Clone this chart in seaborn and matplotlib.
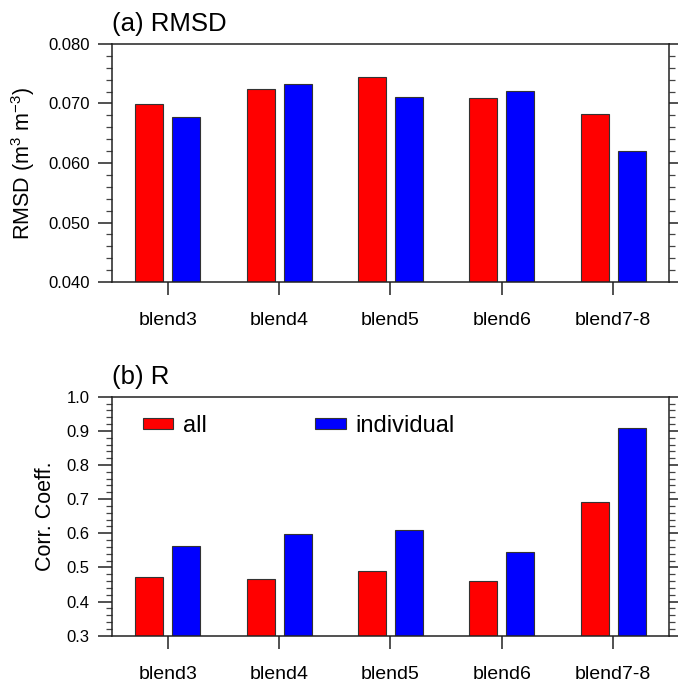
import matplotlib
matplotlib.use("Agg")
import matplotlib.pyplot as plt
from matplotlib.ticker import MultipleLocator, FormatStrFormatter
import seaborn as sns
import pandas as pd

categories = ["blend3", "blend4", "blend5", "blend6", "blend7-8"]
series_names = ["all", "individual"]
rmsd_all = [0.0699, 0.0725, 0.0745, 0.0709, 0.0682]
rmsd_individual = [0.0678, 0.0733, 0.0711, 0.0721, 0.0621]
r_all = [0.473, 0.465, 0.489, 0.459, 0.691]
r_individual = [0.562, 0.597, 0.609, 0.544, 0.907]
colors = {"all": "#ff0000", "individual": "#0000ff"}

sns.set_theme(style="white")
plt.rcParams["font.family"] = ["Liberation Sans", "DejaVu Sans"]
plt.rcParams["mathtext.fontset"] = "custom"
plt.rcParams["mathtext.rm"] = "Liberation Sans"
plt.rcParams["mathtext.it"] = "Liberation Sans"
plt.rcParams["text.color"] = "black"
plt.rcParams["axes.labelcolor"] = "black"
plt.rcParams["xtick.color"] = "black"
plt.rcParams["ytick.color"] = "black"

def make_df(a, b):
    return pd.DataFrame({
        "blend": categories * 2,
        "type": [series_names[0]] * len(categories) + [series_names[1]] * len(categories),
        "val": list(a) + list(b),
    })

fig = plt.figure(figsize=(6.78, 6.82), dpi=100)
ax1 = fig.add_axes([0.1652, 0.5865, 0.8215, 0.349])
ax2 = fig.add_axes([0.1652, 0.0679, 0.8215, 0.3504])

def style_axes(ax, ylim, major, minor, fmt):
    ax.set_ylim(*ylim)
    ax.set_xlim(-0.5, 4.5)
    ax.yaxis.set_major_locator(MultipleLocator(major))
    ax.yaxis.set_minor_locator(MultipleLocator(minor))
    ax.yaxis.set_major_formatter(FormatStrFormatter(fmt))
    for s in ax.spines.values():
        s.set_visible(True)
        s.set_color("#222222")
        s.set_linewidth(1.1)
    ax.tick_params(axis="y", which="major", direction="out", length=10, width=1.1,
                   left=True, right=True, labelsize=12, pad=6, color="#222222",
                   labelcolor="black")
    ax.tick_params(axis="y", which="minor", direction="out", length=4, width=0.9,
                   left=True, right=True, color="#444444")
    ax.tick_params(axis="x", which="major", direction="out", length=9.5, width=1.1,
                   bottom=True, top=False, labelsize=14, pad=12, color="#222222",
                   labelcolor="black")
    ax.tick_params(axis="x", which="minor", bottom=False, top=False)
    ax.set_xlabel("")

sns.barplot(data=make_df(rmsd_all, rmsd_individual), x="blend", y="val", hue="type",
            palette=colors, saturation=1, width=0.664, gap=0.24, edgecolor="#333333",
            linewidth=0.8, ax=ax1, legend=False)
style_axes(ax1, (0.040, 0.080), 0.010, 0.002, "%.3f")
ax1.set_ylabel("RMSD (m$^{3}$ m$^{-3}$)", fontsize=15.5, labelpad=8, color="black")
ax1.set_title("(a) RMSD", loc="left", fontsize=18.5, pad=9, color="black")

sns.barplot(data=make_df(r_all, r_individual), x="blend", y="val", hue="type",
            palette=colors, saturation=1, width=0.664, gap=0.24, edgecolor="#333333",
            linewidth=0.8, ax=ax2)
style_axes(ax2, (0.3, 1.0), 0.1, 0.02, "%.1f")
ax2.set_ylabel("Corr. Coeff.", fontsize=15.5, labelpad=8, color="black")
ax2.set_title("(b) R", loc="left", fontsize=18.5, pad=9, color="black")

handles, labels = ax2.get_legend_handles_labels()
leg = ax2.legend(handles, labels, loc="center left", bbox_to_anchor=(0.055, 0.877),
                 ncol=2, frameon=False, fontsize=17, handlelength=1.3, handleheight=0.34,
                 handletextpad=0.4, columnspacing=4.6, borderpad=0, borderaxespad=0,
                 title=None)
for t in leg.get_texts():
    t.set_color("black")

fig.savefig("out.png", dpi=100)
